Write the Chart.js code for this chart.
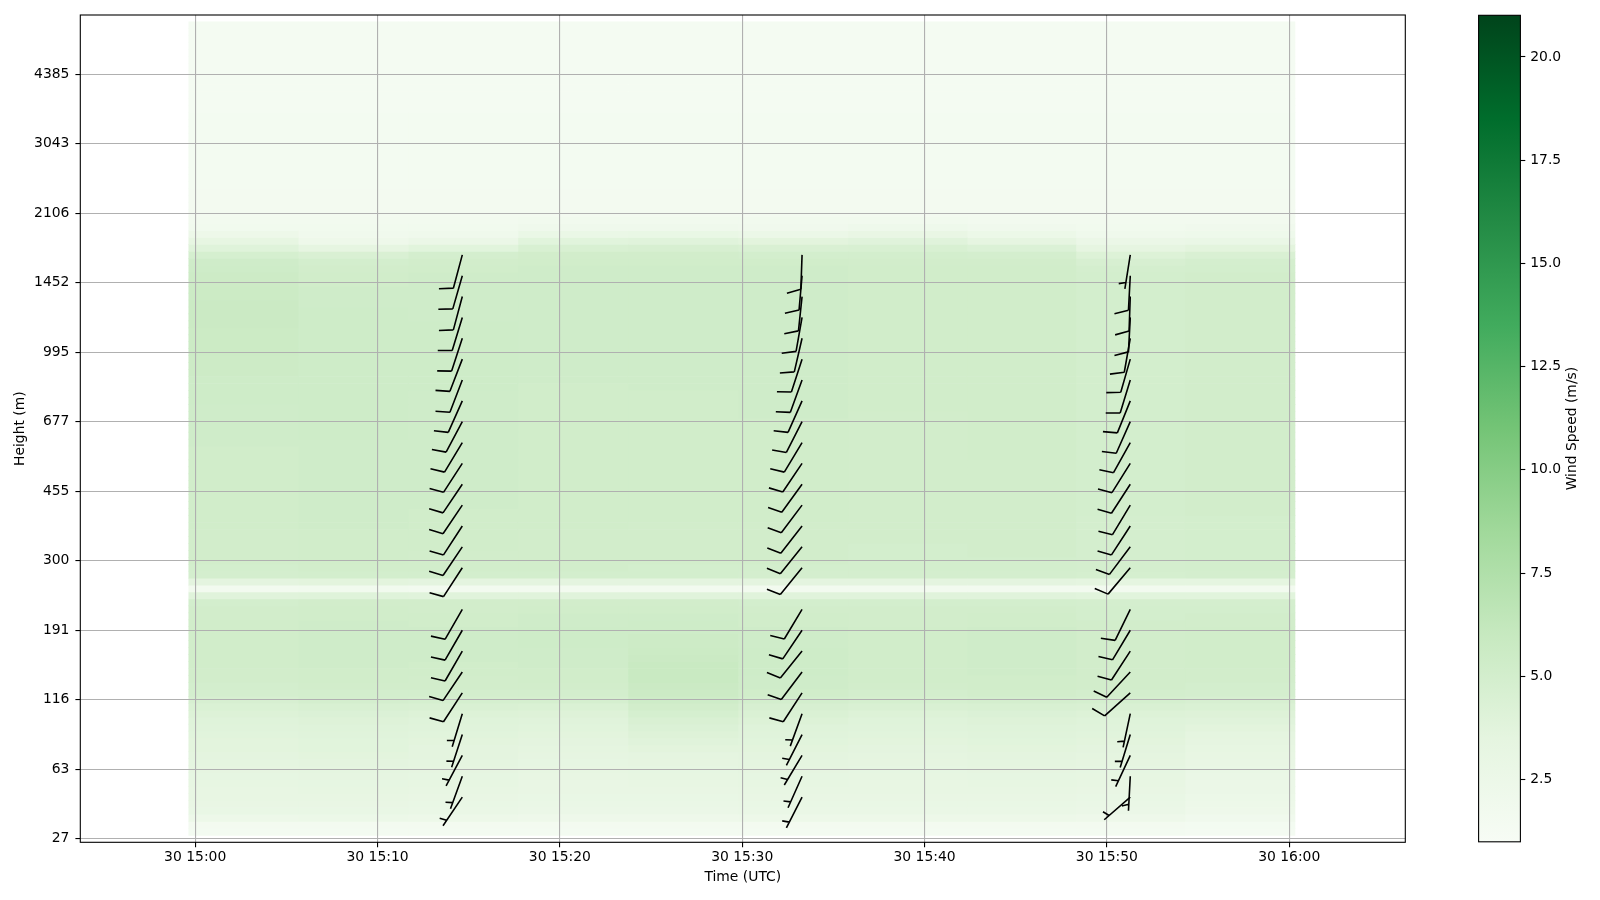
<!DOCTYPE html>
<html lang="en">
<head>
  <meta charset="UTF-8" />
  <title>Wind speed profile</title>
  <script src="https://cdn.jsdelivr.net/npm/chart.js"></script>
  <style>
    html, body { margin: 0; padding: 0; background: #fff; overflow: hidden; }
    .wrap { position: relative; width: 1600px; height: 900px; }
    #main { position: absolute; left: 0; top: 0; }
    #cbar { position: absolute; left: 1440px; top: 0; }
  </style>
</head>
<body>
  <div class="wrap">
    <canvas id="main" width="1600" height="900"></canvas>
    <canvas id="cbar" width="160" height="900"></canvas>
  </div>

  <script>
    // time bins of the speed image (edges, UTC)
    const colEdges = ['14:59:39', '15:05:39', '15:11:41', '15:17:42', '15:23:44', '15:29:46',
                      '15:35:48', '15:42:20', '15:48:18', '15:54:17', '16:00:19'];
    const firstGate = 1;

    // wind speed (m/s), gates 1..90 of each time bin
    const col01 = [1.5, 1.6, 2.4, 2.9, 3.0, 3.1, 3.1, 3.2, 3.3, 3.4,
      3.5, 3.6, 3.7, 3.7, 3.8, 3.9, 4.0, 4.2, 4.4, 4.7,
      4.9, 5.0, 5.1, 5.1, 5.2, 5.2, 5.2, 5.2, 5.2, 5.2,
      5.2, 5.1, 5.1, 5.0, 3.9, 1.7, 3.6, 4.9, 5.0, 5.1,
      5.1, 5.1, 5.1, 5.1, 5.2, 5.2, 5.2, 5.2, 5.2, 5.2,
      5.2, 5.2, 5.2, 5.2, 5.2, 5.2, 5.3, 5.3, 5.3, 5.3,
      5.3, 5.3, 5.4, 5.4, 5.4, 5.4, 5.5, 5.5, 5.5, 5.6,
      5.6, 5.6, 5.6, 5.7, 5.7, 5.7, 5.7, 5.6, 5.6, 5.5,
      5.5, 5.4, 5.3, 4.8, 4.0, 3.2, 2.4, 1.8, 1.7, 1.6];
    const col02 = [1.5, 1.6, 2.5, 2.9, 3.0, 3.1, 3.2, 3.3, 3.4, 3.5,
      3.6, 3.7, 3.8, 3.8, 3.9, 4.0, 4.1, 4.3, 4.6, 4.9,
      5.0, 5.1, 5.2, 5.2, 5.3, 5.3, 5.3, 5.3, 5.3, 5.3,
      5.3, 5.2, 5.2, 5.1, 4.0, 1.8, 3.7, 5.0, 5.1, 5.2,
      5.2, 5.2, 5.2, 5.2, 5.3, 5.3, 5.3, 5.3, 5.3, 5.3,
      5.3, 5.3, 5.3, 5.3, 5.3, 5.3, 5.3, 5.4, 5.4, 5.4,
      5.4, 5.4, 5.4, 5.4, 5.4, 5.4, 5.4, 5.4, 5.4, 5.4,
      5.4, 5.4, 5.4, 5.4, 5.4, 5.4, 5.3, 5.3, 5.3, 5.2,
      5.2, 5.1, 5.0, 4.5, 3.4, 2.3, 2.0, 1.8, 1.7, 1.6];
    const col03 = [1.5, 1.6, 2.4, 2.8, 2.9, 3.0, 3.1, 3.2, 3.3, 3.4,
      3.5, 3.6, 3.6, 3.7, 3.8, 3.9, 4.0, 4.2, 4.5, 4.8,
      5.0, 5.1, 5.1, 5.2, 5.2, 5.3, 5.3, 5.3, 5.3, 5.3,
      5.2, 5.2, 5.1, 5.1, 3.9, 1.7, 3.6, 5.0, 5.1, 5.1,
      5.1, 5.2, 5.2, 5.2, 5.2, 5.2, 5.2, 5.3, 5.3, 5.3,
      5.3, 5.3, 5.3, 5.3, 5.3, 5.3, 5.3, 5.3, 5.3, 5.3,
      5.3, 5.3, 5.3, 5.3, 5.4, 5.4, 5.4, 5.4, 5.4, 5.4,
      5.4, 5.4, 5.4, 5.4, 5.3, 5.3, 5.3, 5.3, 5.3, 5.3,
      5.3, 5.2, 5.1, 4.9, 3.8, 2.6, 2.1, 1.8, 1.7, 1.6];
    const col04 = [1.5, 1.6, 2.3, 2.7, 2.8, 2.9, 3.0, 3.0, 3.1, 3.2,
      3.3, 3.4, 3.5, 3.6, 3.7, 3.8, 3.9, 4.1, 4.4, 4.8,
      5.0, 5.1, 5.2, 5.2, 5.3, 5.3, 5.3, 5.4, 5.4, 5.4,
      5.3, 5.3, 5.2, 5.1, 3.9, 1.7, 3.6, 5.0, 5.1, 5.1,
      5.1, 5.1, 5.1, 5.1, 5.2, 5.2, 5.2, 5.2, 5.2, 5.2,
      5.2, 5.2, 5.2, 5.2, 5.2, 5.2, 5.2, 5.2, 5.2, 5.2,
      5.2, 5.2, 5.2, 5.2, 5.2, 5.3, 5.3, 5.3, 5.3, 5.3,
      5.3, 5.3, 5.3, 5.3, 5.3, 5.3, 5.3, 5.3, 5.3, 5.3,
      5.3, 5.3, 5.2, 5.1, 4.6, 3.8, 2.8, 2.1, 1.8, 1.6];
    const col05 = [1.5, 1.6, 2.3, 2.7, 2.8, 2.9, 3.0, 3.1, 3.2, 3.3,
      3.4, 3.5, 3.7, 3.9, 4.1, 4.3, 4.5, 4.8, 5.1, 5.4,
      5.6, 5.7, 5.8, 5.8, 5.8, 5.7, 5.6, 5.5, 5.5, 5.4,
      5.4, 5.3, 5.2, 5.1, 3.9, 1.7, 3.6, 5.0, 5.0, 5.1,
      5.1, 5.1, 5.1, 5.1, 5.1, 5.2, 5.2, 5.2, 5.2, 5.2,
      5.2, 5.2, 5.2, 5.2, 5.2, 5.2, 5.2, 5.2, 5.2, 5.2,
      5.2, 5.2, 5.2, 5.2, 5.3, 5.3, 5.3, 5.3, 5.3, 5.3,
      5.3, 5.3, 5.3, 5.3, 5.3, 5.3, 5.3, 5.3, 5.3, 5.3,
      5.3, 5.3, 5.2, 5.1, 4.7, 3.9, 2.9, 2.1, 1.8, 1.6];
    const col06 = [1.5, 1.6, 2.4, 2.8, 2.9, 3.0, 3.1, 3.2, 3.3, 3.4,
      3.5, 3.6, 3.7, 3.8, 3.9, 4.0, 4.2, 4.4, 4.7, 5.0,
      5.2, 5.3, 5.3, 5.4, 5.4, 5.4, 5.4, 5.3, 5.3, 5.3,
      5.2, 5.2, 5.1, 5.0, 3.9, 1.7, 3.6, 4.9, 5.0, 5.1,
      5.1, 5.1, 5.1, 5.1, 5.1, 5.2, 5.2, 5.2, 5.2, 5.2,
      5.2, 5.2, 5.2, 5.2, 5.2, 5.2, 5.2, 5.2, 5.2, 5.2,
      5.3, 5.3, 5.3, 5.3, 5.3, 5.3, 5.3, 5.3, 5.3, 5.3,
      5.3, 5.3, 5.3, 5.3, 5.3, 5.3, 5.3, 5.3, 5.3, 5.3,
      5.3, 5.3, 5.2, 5.0, 4.5, 3.7, 2.7, 2.0, 1.8, 1.6];
    const col07 = [1.5, 1.6, 2.4, 2.8, 2.9, 3.0, 3.1, 3.1, 3.2, 3.3,
      3.4, 3.5, 3.6, 3.7, 3.8, 3.9, 4.0, 4.2, 4.5, 4.8,
      5.0, 5.1, 5.2, 5.2, 5.2, 5.2, 5.2, 5.2, 5.2, 5.2,
      5.1, 5.1, 5.1, 5.0, 3.9, 1.7, 3.6, 4.9, 5.0, 5.0,
      5.0, 5.0, 5.1, 5.1, 5.1, 5.1, 5.1, 5.1, 5.1, 5.1,
      5.1, 5.1, 5.1, 5.1, 5.1, 5.1, 5.1, 5.1, 5.1, 5.1,
      5.1, 5.2, 5.2, 5.2, 5.2, 5.2, 5.2, 5.2, 5.2, 5.2,
      5.2, 5.2, 5.2, 5.2, 5.2, 5.2, 5.2, 5.2, 5.2, 5.2,
      5.2, 5.2, 5.1, 5.0, 4.6, 3.9, 3.0, 2.2, 1.8, 1.6];
    const col08 = [1.5, 1.6, 2.4, 2.8, 2.9, 3.0, 3.1, 3.2, 3.3, 3.4,
      3.5, 3.6, 3.7, 3.8, 3.9, 4.0, 4.1, 4.3, 4.6, 4.9,
      5.1, 5.2, 5.2, 5.3, 5.3, 5.3, 5.3, 5.3, 5.3, 5.3,
      5.2, 5.2, 5.1, 5.0, 3.9, 1.7, 3.6, 4.9, 5.0, 5.0,
      5.1, 5.1, 5.1, 5.1, 5.1, 5.1, 5.1, 5.1, 5.1, 5.1,
      5.1, 5.1, 5.1, 5.1, 5.2, 5.2, 5.2, 5.2, 5.2, 5.2,
      5.2, 5.2, 5.2, 5.2, 5.2, 5.2, 5.2, 5.2, 5.2, 5.2,
      5.2, 5.2, 5.2, 5.2, 5.2, 5.2, 5.2, 5.2, 5.2, 5.2,
      5.2, 5.2, 5.1, 4.9, 4.3, 3.4, 2.5, 1.9, 1.7, 1.6];
    const col09 = [1.5, 1.6, 2.3, 2.7, 2.8, 2.9, 3.0, 3.1, 3.2, 3.3,
      3.4, 3.5, 3.6, 3.7, 3.8, 3.9, 4.0, 4.2, 4.5, 4.8,
      5.0, 5.1, 5.1, 5.1, 5.1, 5.1, 5.1, 5.1, 5.1, 5.1,
      5.1, 5.0, 5.0, 4.9, 3.8, 1.7, 3.5, 4.8, 4.9, 4.9,
      4.9, 4.9, 4.9, 4.9, 4.9, 4.9, 5.0, 5.0, 5.0, 5.0,
      5.0, 5.0, 5.0, 5.0, 5.0, 5.0, 5.0, 5.0, 5.0, 5.0,
      5.0, 5.0, 5.0, 5.0, 5.0, 5.0, 5.0, 5.0, 5.0, 5.0,
      5.0, 5.0, 5.0, 5.0, 5.0, 5.0, 5.0, 5.0, 5.0, 5.0,
      5.0, 4.9, 4.7, 4.2, 3.4, 2.6, 2.1, 1.8, 1.7, 1.6];
    const col10 = [1.4, 1.5, 2.0, 2.3, 2.4, 2.5, 2.6, 2.7, 2.8, 2.9,
      3.0, 3.1, 3.2, 3.4, 3.5, 3.7, 3.9, 4.1, 4.4, 4.7,
      4.9, 5.0, 5.1, 5.1, 5.2, 5.2, 5.2, 5.2, 5.2, 5.2,
      5.1, 5.1, 5.0, 4.9, 3.8, 1.7, 3.5, 4.9, 5.0, 5.0,
      5.0, 5.0, 5.0, 5.0, 5.0, 5.0, 5.1, 5.1, 5.1, 5.1,
      5.1, 5.1, 5.1, 5.1, 5.1, 5.1, 5.1, 5.1, 5.1, 5.1,
      5.1, 5.1, 5.1, 5.1, 5.1, 5.1, 5.1, 5.1, 5.1, 5.1,
      5.1, 5.1, 5.1, 5.1, 5.1, 5.1, 5.1, 5.1, 5.1, 5.1,
      5.1, 5.0, 4.9, 4.5, 3.7, 2.8, 2.2, 1.9, 1.7, 1.6];
    // gates 91..117, same in every bin
    const aloft = [1.6, 1.6, 1.6, 1.5, 1.5, 1.5, 1.5, 1.5, 1.5, 1.5,
      1.5, 1.5, 1.5, 1.5, 1.4, 1.4, 1.4, 1.4, 1.4, 1.4,
      1.4, 1.4, 1.4, 1.4, 1.4, 1.4, 1.4];
    const speedCols = [col01, col02, col03, col04, col05, col06, col07, col08, col09, col10];

    // colour limits of the speed image
    const speedMin = 0.99;
    const speedMax = 21.01;
    const cbTicks = [2.5, 5, 7.5, 10, 12.5, 15, 17.5, 20];

    // axis ticks
    const gateTicks = [0, 10, 20, 30, 40, 50, 60, 70, 80, 90, 100, 110];
    const heightLabels = ['27', '63', '116', '191', '300', '455', '677', '995', '1452', '2106', '3043', '4385'];
    const timeTicks = ['15:00', '15:10', '15:20', '15:30', '15:40', '15:50', '16:00'];
    const timeLabels = ['30 15:00', '30 15:10', '30 15:20', '30 15:30', '30 15:40', '30 15:50', '30 16:00'];
    const timeRange = ['14:53:42', '16:06:22'];

    // wind barbs: three profiles, gates 6..84 every third (gate 36 missing)
    const barbTimes = ['15:14:39', '15:33:17', '15:51:17'];
    const barbGates = [6, 9, 12, 15, 18, 21, 24, 27, 30, 33, 39, 42, 45, 48, 51, 54, 57, 60, 63, 66, 69, 72, 75, 78, 81, 84];
    const barbDir1 = [214, 200, 208, 198, 197, 213, 214, 210, 210, 210, 213, 214, 213, 214, 214, 213, 211, 208, 204, 201, 201, 198, 197, 195, 196, 195];
    const barbDir2 = [207, 204, 211, 207, 200, 213, 217, 219, 214, 211, 219, 219, 218, 217, 216, 214, 211, 207, 204, 200, 198, 193, 190, 186, 185, 182];
    const barbDir3 = [229, 183, 205, 197, 192, 228, 223, 213, 211, 206, 220, 217, 213, 211, 213, 212, 209, 204, 202, 197, 196, 190, 183, 182, 183, 189];
    const barbSpd1 = [3.1, 3.2, 3.4, 3.5, 3.7, 4.9, 5.1, 5.3, 5.3, 5.1, 5.1, 5.1, 5.2, 5.2, 5.3, 5.3, 5.3, 5.3, 5.3, 5.4, 5.4, 5.4, 5.4, 5.3, 5.3, 5.0];
    const barbSpd2 = [3.2, 3.3, 3.4, 3.6, 3.7, 5.2, 5.4, 5.4, 5.3, 5.1, 5.1, 5.1, 5.2, 5.2, 5.2, 5.2, 5.2, 5.2, 5.3, 5.3, 5.3, 5.3, 5.3, 5.3, 5.3, 5.0];
    const barbSpd3 = [3.0, 2.9, 3.2, 3.4, 3.6, 5.0, 5.1, 5.1, 5.0, 4.9, 5.0, 5.0, 5.0, 5.0, 5.0, 5.0, 5.0, 5.0, 5.0, 5.0, 5.0, 5.0, 5.0, 4.9, 4.9, 3.5];

    const greens = ['#f7fcf5', '#e5f5e0', '#c7e9c0', '#a1d99b', '#74c476', '#41ab5d', '#238b45', '#006d2c', '#00441b'];
    const greensRGB = greens.map(c => [1, 3, 5].map(i => parseInt(c.substr(i, 2), 16)));

    function toMin(s) {
      const p = s.split(':').map(Number);
      return (p[0] - 15) * 60 + p[1] + (p[2] || 0) / 60;
    }

    function speedColor(v) {
      let t = (v - speedMin) / (speedMax - speedMin);
      t = Math.max(0, Math.min(1, t));
      const pos = t * (greensRGB.length - 1);
      const i = Math.min(Math.floor(pos), greensRGB.length - 2);
      const f = pos - i;
      const a = greensRGB[i], b = greensRGB[i + 1];
      return 'rgb(' + a.map((x, k) => Math.round(x + (b[k] - x) * f)).join(',') + ')';
    }

    Chart.defaults.font.family = "'DejaVu Sans', sans-serif";
    Chart.defaults.font.size = 13.9;
    Chart.defaults.color = '#000';

    const heatSets = speedCols.map((col, c) => {
      const vals = col.concat(aloft);
      return {
        type: 'bar',
        indexAxis: 'y',
        grouped: false,
        barPercentage: 1,
        categoryPercentage: 1,
        borderWidth: 0,
        data: vals.map((v, i) => ({ y: firstGate + i, x: [toMin(colEdges[c]), toMin(colEdges[c + 1])] })),
        backgroundColor: vals.map(speedColor)
      };
    });

    const barbPoints = [];
    [[barbDir1, barbSpd1], [barbDir2, barbSpd2], [barbDir3, barbSpd3]].forEach(([dirs, spds], s) => {
      barbGates.forEach((g, i) => {
        barbPoints.push({ x: toMin(barbTimes[s]), y: g, dir: dirs[i], spd: spds[i] });
      });
    });

    // matplotlib-style barb: staff from the point toward where the wind comes from
    function drawBarb(ctx, x, y, ms, dir) {
      const L = 34.5, sp = 0.125 * L;
      const kt = Math.round(ms * 1.94384 / 5) * 5;
      const full = Math.floor((kt % 50) / 10);
      const half = (kt % 10) >= 5;
      const a = dir * Math.PI / 180;
      const dx = Math.sin(a), dy = -Math.cos(a);
      const px = -dy, py = dx;
      const ex = x + L * dx, ey = y + L * dy;
      ctx.beginPath();
      ctx.moveTo(x, y);
      ctx.lineTo(ex, ey);
      let off = 0;
      for (let k = 0; k < full; k++) {
        const sx = ex - off * dx, sy = ey - off * dy;
        ctx.moveTo(sx, sy);
        ctx.lineTo(sx + 0.4 * L * px + 0.125 * L * dx, sy + 0.4 * L * py + 0.125 * L * dy);
        off += sp;
      }
      if (half) {
        if (off === 0) off = 1.5 * sp;
        const sx = ex - off * dx, sy = ey - off * dy;
        ctx.moveTo(sx, sy);
        ctx.lineTo(sx + 0.2 * L * px + 0.0625 * L * dx, sy + 0.2 * L * py + 0.0625 * L * dy);
      }
      ctx.stroke();
    }

    const barbPlugin = {
      id: 'barbs',
      afterDraw(chart) {
        const meta = chart.getDatasetMeta(heatSets.length);
        const { ctx, chartArea: a } = chart;
        ctx.save();
        ctx.beginPath();
        ctx.rect(a.left, a.top, a.right - a.left, a.bottom - a.top);
        ctx.clip();
        ctx.strokeStyle = '#000';
        ctx.lineWidth = 1.6;
        meta.data.forEach((pt, i) => {
          const d = barbPoints[i];
          drawBarb(ctx, pt.x, pt.y, d.spd, d.dir);
        });
        ctx.restore();
      }
    };

    const framePlugin = {
      id: 'frame',
      afterDraw(chart) {
        const { ctx, chartArea: a } = chart;
        ctx.save();
        ctx.strokeStyle = '#000';
        ctx.lineWidth = 1.1;
        ctx.strokeRect(a.left, a.top, a.right - a.left, a.bottom - a.top);
        ctx.restore();
      }
    };

    const gridStyle = { z: 1, color: '#b0b0b0', lineWidth: 1.1, tickLength: 4.9, tickColor: '#000', tickWidth: 1.1, offset: false };

    new Chart(document.getElementById('main'), {
      type: 'bar',
      data: {
        datasets: heatSets.concat([{
          type: 'scatter',
          indexAxis: 'x',
          data: barbPoints,
          pointRadius: 0,
          pointHoverRadius: 0
        }])
      },
      options: {
        responsive: false,
        animation: false,
        events: [],
        layout: { padding: { left: 0, top: 15, right: 194.7, bottom: 0 } },
        plugins: { legend: { display: false }, tooltip: { enabled: false } },
        scales: {
          x: {
            type: 'linear',
            offset: false,
            min: toMin(timeRange[0]),
            max: toMin(timeRange[1]),
            afterBuildTicks: axis => { axis.ticks = timeTicks.map(t => ({ value: toMin(t) })); },
            afterFit: s => { s.height = 57.7; },
            ticks: { callback: (v, i) => timeLabels[i], padding: 2, maxRotation: 0, autoSkip: false },
            grid: gridStyle,
            border: { display: false },
            title: { display: true, text: 'Time (UTC)', padding: { top: 0, bottom: 14.5 } }
          },
          y: {
            type: 'linear',
            offset: false,
            min: -0.5,
            max: 118.5,
            afterBuildTicks: axis => { axis.ticks = gateTicks.map(v => ({ value: v })); },
            afterFit: s => { s.width = 80.3; },
            ticks: { callback: v => heightLabels[gateTicks.indexOf(v)], padding: 6, autoSkip: false },
            grid: gridStyle,
            border: { display: false },
            title: { display: true, text: 'Height (m)', padding: { top: 12.5, bottom: 0 } }
          }
        }
      },
      plugins: [barbPlugin, framePlugin]
    });

    // colour bar
    const cbLabel = 'Wind Speed (m/s)';
    const cbTitlePlugin = {
      id: 'cbTitle',
      afterDraw(chart) {
        const { ctx, chartArea: a } = chart;
        ctx.save();
        ctx.translate(132, (a.top + a.bottom) / 2);
        ctx.rotate(-Math.PI / 2);
        ctx.font = "13.9px 'DejaVu Sans', sans-serif";
        ctx.fillStyle = '#000';
        ctx.textAlign = 'center';
        ctx.textBaseline = 'middle';
        ctx.fillText(cbLabel, 0, 0);
        ctx.restore();
      }
    };

    new Chart(document.getElementById('cbar'), {
      type: 'bar',
      data: {
        labels: [''],
        datasets: [{
          data: [[speedMin, speedMax]],
          barPercentage: 1,
          categoryPercentage: 1,
          borderWidth: 0,
          backgroundColor: ctx => {
            const chart = ctx.chart;
            if (!chart.chartArea) return greens[0];
            const ys = chart.scales.y;
            const g = chart.ctx.createLinearGradient(0, ys.getPixelForValue(speedMin), 0, ys.getPixelForValue(speedMax));
            greens.forEach((c, k) => g.addColorStop(k / (greens.length - 1), c));
            return g;
          }
        }]
      },
      options: {
        responsive: false,
        animation: false,
        events: [],
        layout: { padding: { left: 38.6, top: 15.3, right: 0, bottom: 58.2 } },
        plugins: { legend: { display: false }, tooltip: { enabled: false } },
        scales: {
          x: { display: false },
          y: {
            position: 'right',
            min: speedMin,
            max: speedMax,
            afterBuildTicks: axis => { axis.ticks = cbTicks.map(v => ({ value: v })); },
            afterFit: s => { s.width = 79.6; },
            ticks: { callback: v => v.toFixed(1), padding: 4.9 },
            grid: { drawOnChartArea: false, tickLength: 4.9, tickColor: '#000', tickWidth: 1.1 },
            border: { display: false }
          }
        }
      },
      plugins: [framePlugin, cbTitlePlugin]
    });
  </script>
</body>
</html>
